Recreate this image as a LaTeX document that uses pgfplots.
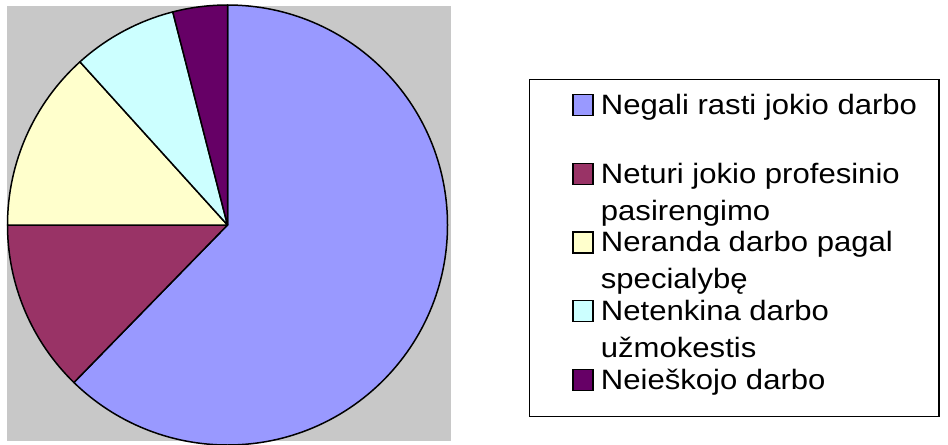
\documentclass[border=0pt]{standalone}
\usepackage{pgfplots}
\pgfplotsset{compat=1.18}
\usepackage{pgfplotstable}
\usepackage{fontspec}
\setmainfont{Liberation Sans}[FakeStretch=1.11]
\definecolor{cA}{HTML}{9999FF}
\definecolor{cB}{HTML}{993366}
\definecolor{cC}{HTML}{FFFFCC}
\definecolor{cD}{HTML}{CCFFFF}
\definecolor{cE}{HTML}{660066}
\definecolor{bgGray}{HTML}{C8C8C8}
\newcommand\twol[2]{\vtop{\hbox{#1}\hbox{#2}}}
\pgfplotstableread{
value color
62.3 cA
12.7 cB
13.3 cC
7.7 cD
4.0 cE
}\piedata
\pgfplotsset{
  pieleg/.style={legend image code/.code={%
    \filldraw[draw=black, line width=1.2bp, fill=#1] (0bp,-1bp) rectangle (20bp,20bp);
    \path (-20.7bp,0bp);}}
}
\begin{document}
\begin{tikzpicture}
\useasboundingbox (0,0) rectangle (948bp,-445bp);
\begin{axis}[
  at={(7bp,-441bp)}, anchor=south west,
  scale only axis, width=444bp, height=435bp,
  xmin=-220.5, xmax=223.5, ymin=-216, ymax=219,
  hide axis, clip=false,
  legend style={
    at={(1.1757,0.8322)}, anchor=north west,
    draw=black, line width=1.3bp, fill=white,
    inner xsep=22bp, inner ysep=14.5bp,
    row sep=35bp, column sep=7.3bp,
    font=\fontsize{28bp}{37bp}\selectfont,
    cells={anchor=base west},
    nodes={inner sep=0pt, text height=20bp, text depth=13bp},
  },
]
\fill[bgGray] (rel axis cs:0,0) rectangle (rel axis cs:1,1);
\def\startang{90}
\pgfplotsforeachungrouped \i in {0,...,4}{%
  \pgfplotstablegetelem{\i}{value}\of\piedata \let\v=\pgfplotsretval
  \pgfplotstablegetelem{\i}{color}\of\piedata \let\c=\pgfplotsretval
  \pgfmathsetmacro\endang{\startang-3.6*\v}%
  \edef\temp{\noexpand\filldraw[fill=\c,draw=black,line width=1.5bp,line join=round] (axis cs:0,0) -- (axis cs:{220*cos(\startang)},{220*sin(\startang)}) arc[start angle=\startang,end angle=\endang,radius=220bp] -- cycle;}%
  \temp
  \global\let\startang=\endang
}
\addlegendimage{pieleg=cA}
\addlegendentry{Negali rasti jokio darbo}
\addlegendimage{pieleg=cB}
\addlegendentry{\twol{Neturi jokio profesinio}{pasirengimo}}
\addlegendimage{pieleg=cC}
\addlegendentry{\twol{Neranda darbo pagal}{specialybę}}
\addlegendimage{pieleg=cD}
\addlegendentry{\twol{Netenkina darbo}{užmokestis}}
\addlegendimage{pieleg=cE}
\addlegendentry{Neieškojo darbo}
\end{axis}
\end{tikzpicture}
\end{document}
